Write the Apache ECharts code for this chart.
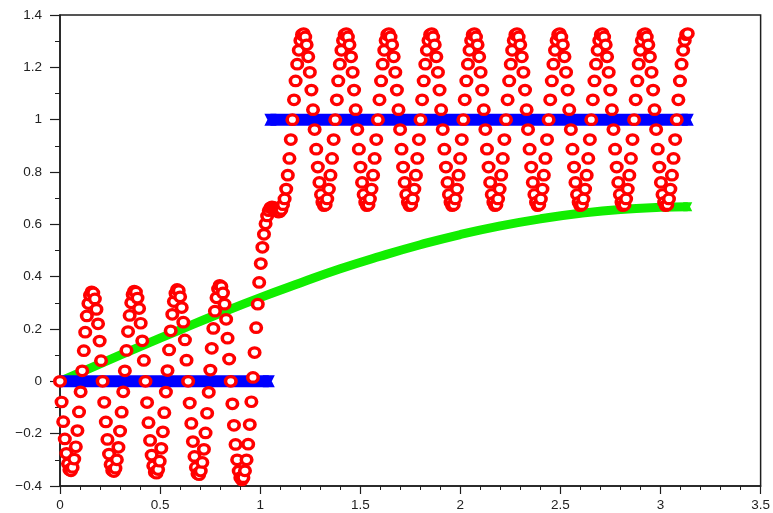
<!DOCTYPE html>
<html>
<head>
<meta charset="utf-8">
<script src="https://cdn.jsdelivr.net/npm/echarts@6/dist/echarts.min.js"></script>
<style>
  html, body { margin: 0; padding: 0; background: #fff; }
  #chart { width: 773px; height: 513px; }
</style>
</head>
<body>
<div id="chart"></div>
<script>
// sample times of the oscillating signal (red circles)
const redX = [
  0, 0.008, 0.016, 0.024, 0.032, 0.040, 0.047, 0.055, 0.063, 0.071,
  0.079, 0.087, 0.095, 0.103, 0.111, 0.119, 0.126, 0.134, 0.142, 0.150,
  0.158, 0.166, 0.174, 0.182, 0.190, 0.198, 0.205, 0.213, 0.221, 0.229,
  0.237, 0.245, 0.253, 0.261, 0.269, 0.277, 0.284, 0.292, 0.300, 0.308,
  0.316, 0.324, 0.332, 0.340, 0.348, 0.356, 0.363, 0.371, 0.379, 0.387,
  0.395, 0.403, 0.411, 0.419, 0.427, 0.435, 0.442, 0.450, 0.458, 0.466,
  0.474, 0.482, 0.490, 0.498, 0.506, 0.514, 0.521, 0.529, 0.537, 0.545,
  0.553, 0.561, 0.569, 0.577, 0.585, 0.593, 0.600, 0.608, 0.616, 0.624,
  0.632, 0.640, 0.648, 0.656, 0.664, 0.672, 0.679, 0.687, 0.695, 0.703,
  0.711, 0.719, 0.727, 0.735, 0.743, 0.751, 0.758, 0.766, 0.774, 0.782,
  0.790, 0.798, 0.806, 0.814, 0.822, 0.830, 0.837, 0.845, 0.853, 0.861,
  0.869, 0.877, 0.885, 0.893, 0.901, 0.909, 0.916, 0.924, 0.932, 0.940,
  0.948, 0.956, 0.964, 0.972, 0.980, 0.988, 0.995, 1.003, 1.011, 1.019,
  1.027, 1.035, 1.043, 1.051, 1.059, 1.067, 1.074, 1.082, 1.090, 1.098,
  1.106, 1.114, 1.122, 1.130, 1.138, 1.146, 1.153, 1.161, 1.169, 1.177,
  1.185, 1.193, 1.201, 1.209, 1.217, 1.225, 1.232, 1.240, 1.248, 1.256,
  1.264, 1.272, 1.280, 1.288, 1.296, 1.304, 1.311, 1.319, 1.327, 1.335,
  1.343, 1.351, 1.359, 1.367, 1.375, 1.383, 1.390, 1.398, 1.406, 1.414,
  1.422, 1.430, 1.438, 1.446, 1.454, 1.462, 1.469, 1.477, 1.485, 1.493,
  1.501, 1.509, 1.517, 1.525, 1.533, 1.541, 1.548, 1.556, 1.564, 1.572,
  1.580, 1.588, 1.596, 1.604, 1.612, 1.620, 1.627, 1.635, 1.643, 1.651,
  1.659, 1.667, 1.675, 1.683, 1.691, 1.699, 1.706, 1.714, 1.722, 1.730,
  1.738, 1.746, 1.754, 1.762, 1.770, 1.778, 1.785, 1.793, 1.801, 1.809,
  1.817, 1.825, 1.833, 1.841, 1.849, 1.857, 1.864, 1.872, 1.880, 1.888,
  1.896, 1.904, 1.912, 1.920, 1.928, 1.936, 1.943, 1.951, 1.959, 1.967,
  1.975, 1.983, 1.991, 1.999, 2.007, 2.015, 2.022, 2.030, 2.038, 2.046,
  2.054, 2.062, 2.070, 2.078, 2.086, 2.094, 2.101, 2.109, 2.117, 2.125,
  2.133, 2.141, 2.149, 2.157, 2.165, 2.173, 2.180, 2.188, 2.196, 2.204,
  2.212, 2.220, 2.228, 2.236, 2.244, 2.252, 2.259, 2.267, 2.275, 2.283,
  2.291, 2.299, 2.307, 2.315, 2.323, 2.331, 2.338, 2.346, 2.354, 2.362,
  2.370, 2.378, 2.386, 2.394, 2.402, 2.410, 2.417, 2.425, 2.433, 2.441,
  2.449, 2.457, 2.465, 2.473, 2.481, 2.489, 2.496, 2.504, 2.512, 2.520,
  2.528, 2.536, 2.544, 2.552, 2.560, 2.568, 2.575, 2.583, 2.591, 2.599,
  2.607, 2.615, 2.623, 2.631, 2.639, 2.647, 2.654, 2.662, 2.670, 2.678,
  2.686, 2.694, 2.702, 2.710, 2.718, 2.726, 2.733, 2.741, 2.749, 2.757,
  2.765, 2.773, 2.781, 2.789, 2.797, 2.805, 2.812, 2.820, 2.828, 2.836,
  2.844, 2.852, 2.860, 2.868, 2.876, 2.884, 2.891, 2.899, 2.907, 2.915,
  2.923, 2.931, 2.939, 2.947, 2.955, 2.963, 2.970, 2.978, 2.986, 2.994,
  3.002, 3.010, 3.018, 3.026, 3.034, 3.042, 3.049, 3.057, 3.065, 3.073,
  3.081, 3.089, 3.097, 3.105, 3.113, 3.121, 3.128, 3.136
]

// oscillating signal values, one per sample time
const redY = [
  0, -0.079, -0.154, -0.220, -0.275, -0.315, -0.338, -0.342, -0.329, -0.297,
  -0.250, -0.188, -0.117, -0.040, 0.040, 0.117, 0.188, 0.250, 0.297, 0.329,
  0.342, 0.338, 0.315, 0.275, 0.220, 0.154, 0.079, 0, -0.080, -0.155,
  -0.222, -0.278, -0.318, -0.341, -0.345, -0.332, -0.300, -0.252, -0.190, -0.118,
  -0.040, 0.040, 0.118, 0.190, 0.252, 0.300, 0.332, 0.345, 0.341, 0.318,
  0.278, 0.222, 0.155, 0.080, 0, -0.081, -0.158, -0.226, -0.282, -0.323,
  -0.347, -0.351, -0.337, -0.305, -0.256, -0.193, -0.120, -0.041, 0.041, 0.120,
  0.193, 0.256, 0.305, 0.337, 0.351, 0.347, 0.323, 0.282, 0.226, 0.158,
  0.081, 0, -0.083, -0.161, -0.230, -0.287, -0.329, -0.353, -0.357, -0.343,
  -0.310, -0.260, -0.197, -0.122, -0.042, 0.043, 0.126, 0.202, 0.268, 0.319,
  0.353, 0.367, 0.362, 0.338, 0.295, 0.237, 0.165, 0.085, 0, -0.086,
  -0.168, -0.241, -0.300, -0.343, -0.368, -0.377, -0.368, -0.342, -0.300, -0.240,
  -0.165, -0.078, 0.015, 0.110, 0.205, 0.295, 0.378, 0.450, 0.512, 0.562,
  0.602, 0.632, 0.652, 0.663, 0.667, 0.665, 0.659, 0.652, 0.647, 0.648,
  0.657, 0.675, 0.697, 0.735, 0.788, 0.852, 0.924, 1.000, 1.076, 1.148,
  1.212, 1.265, 1.303, 1.325, 1.329, 1.316, 1.286, 1.240, 1.181, 1.113,
  1.038, 0.962, 0.887, 0.819, 0.760, 0.714, 0.684, 0.671, 0.675, 0.697,
  0.735, 0.788, 0.852, 0.924, 1.000, 1.076, 1.148, 1.212, 1.265, 1.303,
  1.325, 1.329, 1.316, 1.286, 1.240, 1.181, 1.113, 1.038, 0.962, 0.887,
  0.819, 0.760, 0.714, 0.684, 0.671, 0.675, 0.697, 0.735, 0.788, 0.852,
  0.924, 1.000, 1.076, 1.148, 1.212, 1.265, 1.303, 1.325, 1.329, 1.316,
  1.286, 1.240, 1.181, 1.113, 1.038, 0.962, 0.887, 0.819, 0.760, 0.714,
  0.684, 0.671, 0.675, 0.697, 0.735, 0.788, 0.852, 0.924, 1.000, 1.076,
  1.148, 1.212, 1.265, 1.303, 1.325, 1.329, 1.316, 1.286, 1.240, 1.181,
  1.113, 1.038, 0.962, 0.887, 0.819, 0.760, 0.714, 0.684, 0.671, 0.675,
  0.697, 0.735, 0.788, 0.852, 0.924, 1.000, 1.076, 1.148, 1.212, 1.265,
  1.303, 1.325, 1.329, 1.316, 1.286, 1.240, 1.181, 1.113, 1.038, 0.962,
  0.887, 0.819, 0.760, 0.714, 0.684, 0.671, 0.675, 0.697, 0.735, 0.788,
  0.852, 0.924, 1.000, 1.076, 1.148, 1.212, 1.265, 1.303, 1.325, 1.329,
  1.316, 1.286, 1.240, 1.181, 1.113, 1.038, 0.962, 0.887, 0.819, 0.760,
  0.714, 0.684, 0.671, 0.675, 0.697, 0.735, 0.788, 0.852, 0.924, 1.000,
  1.076, 1.148, 1.212, 1.265, 1.303, 1.325, 1.329, 1.316, 1.286, 1.240,
  1.181, 1.113, 1.038, 0.962, 0.887, 0.819, 0.760, 0.714, 0.684, 0.671,
  0.675, 0.697, 0.735, 0.788, 0.852, 0.924, 1.000, 1.076, 1.148, 1.212,
  1.265, 1.303, 1.325, 1.329, 1.316, 1.286, 1.240, 1.181, 1.113, 1.038,
  0.962, 0.887, 0.819, 0.760, 0.714, 0.684, 0.671, 0.675, 0.697, 0.735,
  0.788, 0.852, 0.924, 1.000, 1.076, 1.148, 1.212, 1.265, 1.303, 1.325,
  1.329, 1.316, 1.286, 1.240, 1.181, 1.113, 1.038, 0.962, 0.887, 0.819,
  0.760, 0.714, 0.684, 0.671, 0.675, 0.697, 0.735, 0.788, 0.852, 0.924,
  1.000, 1.076, 1.148, 1.212, 1.265, 1.303, 1.325, 1.329
]

// step reference (blue), before and after the switch
const blueLowX = [0, 1.043]
const blueLowY = [0, 0]
const blueHighX = [1.051, 3.136]
const blueHighY = [1, 1]

// smooth response (green)
const greenX = [0, 0.2, 0.4, 0.6, 0.8, 1.0, 1.2, 1.4, 1.6, 1.8, 2.0, 2.2, 2.4, 2.6, 2.8, 3.0, 3.136]
const greenY = [0, 0.067, 0.133, 0.197, 0.260, 0.320, 0.376, 0.430, 0.478, 0.522, 0.561, 0.594, 0.621, 0.642, 0.657, 0.665, 0.667]

// axis ticks
const xTicks = {min: 0, max: 3.5, step: 0.5}
const yTicks = {min: -0.4, max: 1.4, step: 0.2}

// end of a band of crosses: square end with a shallow notch on the left
const NOTCH = 'path://M0,0L10,0L10,10L0,10L2.5,5Z'
const AXIS_COLOR = '#1e1e1e'
const FONT = '"Liberation Sans", Arial, Helvetica, sans-serif'

/** turn two arrays into line data, with an end mark only on the marked ends */
function linePoints(xs, ys, marked) {
  const last = xs.length - 1
  return xs.map((x, i) => ({
    value: [x, ys[i]],
    symbol: marked.includes(i) ? NOTCH : 'none',
    // notch must face outwards: right-hand ends are turned round
    symbolRotate: i === last ? 180 : 0,
  }))
}

function fmt(v) {
  const n = Math.round(v * 10) / 10
  return String(n).replace('-', '\u2212')
}

function axisBase(ticks, tickLen, minorSplit, minorLen) {
  return {
    type: 'value',
    min: ticks.min,
    max: ticks.max,
    interval: ticks.step,
    axisLine: {show: true, onZero: false, lineStyle: {color: AXIS_COLOR, width: 1.5}},
    axisTick: {show: true, length: tickLen, lineStyle: {color: AXIS_COLOR, width: 1.2}},
    minorTick: {show: true, splitNumber: minorSplit, length: minorLen, lineStyle: {color: AXIS_COLOR, width: 1}},
    splitLine: {show: false},
    axisLabel: {
      color: '#222',
      fontSize: 13.5,
      fontFamily: FONT,
      formatter: fmt,
    },
  }
}

const chart = echarts.init(document.getElementById('chart'), null, {renderer: 'canvas'})

const xAxis = axisBase(xTicks, 8, 5, 4)
xAxis.axisLabel.margin = 12
const yAxis = axisBase(yTicks, 10, 2, 5)
yAxis.axisLabel.margin = 18

chart.setOption({
  animation: false,
  backgroundColor: '#fff',
  grid: {
    left: 60,
    right: 8,
    top: 15,
    bottom: 27,
    show: true,
    borderColor: AXIS_COLOR,
    borderWidth: 1.5,
    backgroundColor: 'transparent',
  },
  xAxis,
  yAxis,
  series: [
    {
      type: 'line',
      z: 1,
      smooth: true,
      data: linePoints(greenX, greenY, [greenX.length - 1]),
      symbolSize: 9,
      lineStyle: {color: '#11ee00', width: 9},
      itemStyle: {color: '#11ee00'},
    },
    {
      type: 'line',
      z: 2,
      data: linePoints(blueLowX, blueLowY, [1]),
      symbolSize: 12,
      lineStyle: {color: '#0000ff', width: 12},
      itemStyle: {color: '#0000ff'},
    },
    {
      type: 'line',
      z: 2,
      data: linePoints(blueHighX, blueHighY, [0, 1]),
      symbolSize: 12,
      lineStyle: {color: '#0000ff', width: 12},
      itemStyle: {color: '#0000ff'},
    },
    {
      type: 'scatter',
      z: 3,
      data: redX.map((x, i) => [x, redY[i]]),
      symbol: 'circle',
      symbolSize: [10.5, 9.5],
      itemStyle: {color: '#ffffff', borderColor: '#ff0000', borderWidth: 3.4, opacity: 1},
    },
  ],
})
</script>
</body>
</html>
